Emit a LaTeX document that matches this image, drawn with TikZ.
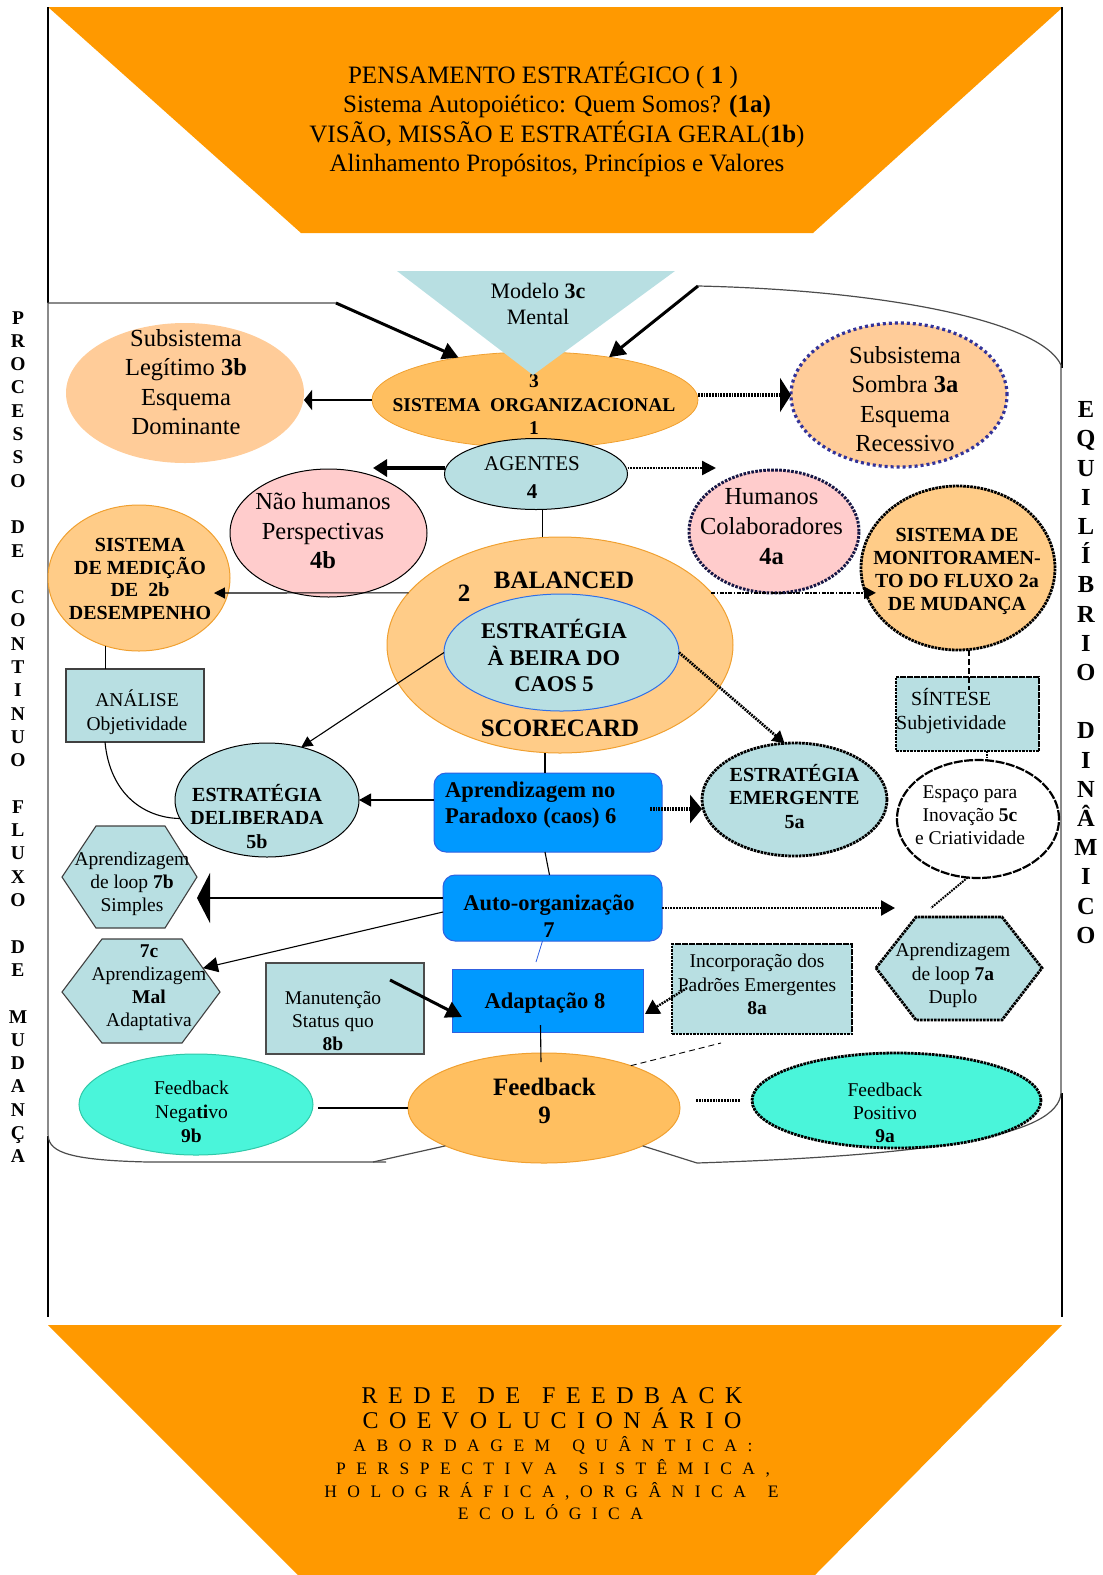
\documentclass[tikz,border=0pt]{standalone}
\usepackage{fontspec}
\setmainfont{Liberation Serif}
\usetikzlibrary{shapes.geometric,arrows.meta,calc}

\definecolor{trap}{HTML}{FF9900}
\definecolor{orgfill}{HTML}{FFBF60}
\definecolor{balfill}{HTML}{FFCC88}
\definecolor{peach}{HTML}{FFCC99}
\definecolor{ltblue}{HTML}{B8DFE2}
\definecolor{pinkfill}{HTML}{FFCCCC}
\definecolor{fbteal}{HTML}{4AF5DA}
\definecolor{tealedge}{HTML}{30C8A8}
\definecolor{boxblue}{HTML}{0099FF}
\definecolor{boxedge}{HTML}{3060E0}
\definecolor{caosedge}{HTML}{2F6FE8}
\definecolor{navydot}{HTML}{333399}
\definecolor{edgeor}{HTML}{F0A030}

\newcommand{\setfs}[2]{\fontsize{#1pt}{#2pt}\selectfont}
\newcommand{\lgap}{\hspace{10.5pt}}
\newcommand{\wgap}{\hspace{22pt}}

\tikzset{
  ellnode/.style={ellipse, inner sep=0pt, outer sep=0pt},
  boxnode/.style={rectangle, inner sep=0pt, outer sep=0pt},
  txt/.style={align=center, inner sep=0pt},
  cont/.style={line width=1.2pt, draw=black!70},
  conn/.style={line width=1.1pt},
  arr/.style={conn, -{Triangle[length=11pt,width=11pt]}},
  heavyarr/.style={line width=3pt, -{Triangle[length=16pt,width=17pt]}},
  dotln/.style={line width=2.8pt, dash pattern=on 1.8pt off 1pt},
  dotedge/.style={draw=black, line width=2.8pt, dash pattern=on 2.6pt off 0.9pt},
  navyedge/.style={draw=navydot, line width=3.2pt, dash pattern=on 3pt off 3pt},
  humedge/.style={draw=black!55!navydot, line width=3pt, dash pattern=on 2.6pt off 1.4pt},
  hexplain/.style={fill=ltblue, draw=black!75, line width=1.1pt},
}

\begin{document}
\begin{tikzpicture}[x=1pt,y=-1pt]
\useasboundingbox (0,0) rectangle (1103,1575);

% orange bands, top and bottom
\fill[trap] (48,7) -- (1063,7) -- (813,233) -- (301,233) -- cycle;
\fill[trap] (48,1325) -- (1062,1325) -- (815,1575) -- (298,1575) -- cycle;
\node[txt, font=\setfs{25}{29.3}] (topT) at (557,119.5)
  {PENSAMENTO ESTRATÉGICO ( \textbf{1} )\hspace*{28pt}\\
   Sistema Autopoiético: Quem Somos? \textbf{(1a)}\\
   VISÃO, MISSÃO E ESTRATÉGIA GERAL(\textbf{1b})\\
   Alinhamento Propósitos, Princípios e Valores};

\node[anchor=base, font=\setfs{24}{28}] (b1) at (552,1403)
  {R\lgap E\lgap D\lgap E\wgap D\lgap E\wgap F\lgap E\lgap E\lgap D\lgap B\lgap A\lgap C\lgap K};
\node[anchor=base, font=\setfs{24}{28}] (b2) at (552,1428)
  {C\lgap O\lgap E\lgap V\lgap O\lgap L\lgap U\lgap C\lgap I\lgap O\lgap N\lgap Á\lgap R\lgap I\lgap O};
\node[anchor=base, font=\setfs{17.5}{21}] (b3) at (553,1451)
  {A\lgap B\lgap O\lgap R\lgap D\lgap A\lgap G\lgap E\lgap M\wgap Q\lgap U\lgap Â\lgap N\lgap T\lgap I\lgap C\lgap A\lgap :};
\node[anchor=base, font=\setfs{17.5}{21}] (b4) at (553,1474)
  {P\lgap E\lgap R\lgap S\lgap P\lgap E\lgap C\lgap T\lgap I\lgap V\lgap A\wgap S\lgap I\lgap S\lgap T\lgap Ê\lgap M\lgap I\lgap C\lgap A\lgap ,};
\node[anchor=base, font=\setfs{17.5}{21}] (b5) at (551.5,1497)
  {H\lgap O\lgap L\lgap O\lgap G\lgap R\lgap Á\lgap F\lgap I\lgap C\lgap A\lgap ,\lgap O\lgap R\lgap G\lgap Â\lgap N\lgap I\lgap C\lgap A\wgap E};
\node[anchor=base, font=\setfs{17.5}{21}] (b6) at (550.5,1519)
  {E\lgap C\lgap O\lgap L\lgap Ó\lgap G\lgap I\lgap C\lgap A};

% outer frame
\draw[line width=2pt] (48,7) -- (48,303);
\draw[line width=2pt] (48,1136) -- (48,1317);
\draw[line width=2pt] (1062,7) -- (1062,368);
\draw[line width=2pt] (1062,1093) -- (1062,1317);

% side captions
\node[txt, font=\bfseries\setfs{19.5}{23.3}] (leftT) at (18,737)
  {P\\R\\O\\C\\E\\S\\S\\O\\\mbox{}\\D\\E\\\mbox{}\\C\\O\\N\\T\\I\\N\\U\\O\\\mbox{}\\F\\L\\U\\X\\O\\\mbox{}\\D\\E\\\mbox{}\\M\\U\\D\\A\\N\\Ç\\A};
\node[txt, font=\bfseries\setfs{24.5}{29.2}] (rightT) at (1086,672.5)
  {E\\Q\\U\\I\\L\\Í\\B\\R\\I\\O\\\mbox{}\\D\\I\\N\\Â\\M\\I\\C\\O};

% inner container outline
\coordinate (ctl) at (336,303);
\coordinate (ctr) at (698,286);
\coordinate (cbl) at (373,1162);
\coordinate (cbr) at (697,1163);
\draw[cont] (ctl) -- (48,303) -- (48,1133) .. controls (48,1150) and (60,1160) .. (148,1162) -- (386,1162);
\draw[cont] (ctr) .. controls (880,290) and (1040,320) .. (1061,365) -- (1061,1093)
  .. controls (1058,1135) and (940,1155) .. (cbr);

% ---- nodes ----
\node[ellnode, minimum width=326pt, minimum height=96pt, fill=orgfill, draw=edgeor, line width=0.8pt] (org) at (535,400) {};
\node[txt, font=\bfseries\setfs{19.5}{23.5}] (orgT) at (534,405) {3\\SISTEMA\ \ ORGANIZACIONAL\\1};
\fill[ltblue] (397,271) -- (675,271) -- (533,375) -- cycle;
\node[txt, font=\setfs{22}{26}] (modeloT) at (538,304) {Modelo \textbf{3c}\\Mental};

\node[ellnode, minimum width=238pt, minimum height=140pt, fill=peach] (legit) at (185,393) {};
\node[txt, font=\setfs{24.5}{29.3}] (legitT) at (186,382) {Subsistema\\Legítimo \textbf{3b}\\Esquema\\Dominante};

\node[ellnode, minimum width=216pt, minimum height=144pt, fill=peach, navyedge] (sombra) at (899,395) {};
\node[txt, font=\setfs{24.5}{29.3}] (sombraT) at (905,399) {Subsistema\\Sombra \textbf{3a}\\Esquema\\Recessivo};

\node[ellnode, minimum width=183pt, minimum height=71pt, fill=ltblue, draw=black, line width=1pt] (agentes) at (536,474) {};
\node[txt, font=\setfs{21}{28}] (agentesT) at (532,478) {AGENTES\\\textbf{4}};

\node[ellnode, minimum width=197pt, minimum height=128pt, fill=pinkfill, draw=black, line width=1pt] (naohum) at (328.5,533) {};
\node[txt, font=\setfs{24.5}{29.5}] (naohumT) at (323,531) {Não humanos\\Perspectivas\\\textbf{4b}};

\node[ellnode, minimum width=170pt, minimum height=123pt, fill=pinkfill, humedge] (humanos) at (774,531.5) {};
\node[txt, font=\setfs{24.5}{30}] (humanosT) at (771.5,527) {Humanos\\Colaboradores\\\textbf{4a}};

\node[ellnode, minimum width=346pt, minimum height=216pt, fill=balfill, draw=edgeor, line width=1pt] (bal) at (560,645) {};
\node[font=\bfseries\setfs{25}{28}] (balT) at (564,580) {BALANCED};
\node[font=\bfseries\setfs{25}{28}] (balN) at (464,593) {2};
\node[font=\bfseries\setfs{25}{28}] (scoreT) at (560,728) {SCORECARD};
\node[ellnode, minimum width=235pt, minimum height=117pt, fill=ltblue, draw=caosedge, line width=1pt] (caos) at (561.5,652.5) {};
\node[txt, font=\bfseries\setfs{22.5}{26.5}] (caosT) at (554,655.5) {ESTRATÉGIA\\À BEIRA DO\\CAOS 5};

\node[ellnode, minimum width=182pt, minimum height=146pt, fill=balfill, draw=edgeor, line width=1pt] (med) at (139,578) {};
\node[txt, font=\bfseries\setfs{20}{22.7}] (medT) at (140,579) {SISTEMA\\DE MEDIÇÃO\\DE\ \ 2b\\DESEMPENHO};

\node[ellnode, minimum width=194pt, minimum height=164pt, fill=balfill, dotedge] (mon) at (958,568) {};
\node[txt, font=\bfseries\setfs{20}{23}] (monT) at (957,571.5) {SISTEMA DE\\MONITORAMEN-\\TO DO FLUXO 2a\\DE MUDANÇA};

\node[boxnode, minimum width=138pt, minimum height=73pt, fill=ltblue, draw=black!75, line width=1.2pt] (ana) at (135,705.5) {};
\node[txt, font=\setfs{19.5}{24}] (anaT) at (137,712) {ANÁLISE\\Objetividade};

\node[ellnode, minimum width=184pt, minimum height=114pt, fill=ltblue, draw=black, line width=1pt] (delib) at (267,800) {};
\node[txt, font=\bfseries\setfs{20}{23.5}] (delibT) at (257,816.5) {ESTRATÉGIA\\DELIBERADA\\5b};

\node[boxnode, rounded corners=12pt, minimum width=228pt, minimum height=79pt, fill=boxblue, draw=boxedge, line width=1pt] (ap6) at (548,812.5) {};
\node[align=left, anchor=west, inner sep=0pt, font=\bfseries\setfs{22.5}{26}] (ap6T) at (445,805) {Aprendizagem no\\Paradoxo (caos) 6};

\node[ellnode, minimum width=185pt, minimum height=113pt, fill=ltblue, dotedge] (emerg) at (794.5,799.5) {};
\node[txt, font=\bfseries\setfs{20}{23.5}] (emergT) at (794.5,796.5) {ESTRATÉGIA\\EMERGENTE\\5a};

\node[boxnode, minimum width=143pt, minimum height=74pt, fill=ltblue, dotedge] (sint) at (967.5,714) {};
\node[align=left, anchor=west, inner sep=0pt, font=\setfs{20}{24}] (sintT) at (896,711) {\hspace*{15pt}SÍNTESE\\Subjetividade};

\node[ellnode, minimum width=162pt, minimum height=118pt, fill=white, draw=black, line width=2.2pt, dash pattern=on 9pt off 1.5pt] (esp) at (978,819) {};
\node[txt, font=\setfs{19.5}{23}] (espT) at (970,815) {Espaço para\\Inovação \textbf{5c}\\e Criatividade};

\node[boxnode, rounded corners=12pt, minimum width=219pt, minimum height=66pt, fill=boxblue, draw=boxedge, line width=1pt] (auto) at (552.5,908) {};
\node[txt, font=\bfseries\setfs{22.5}{27}] (autoT) at (549,916.5) {Auto-organização\\7};

% hexagons
\coordinate (h7bR) at (197,877);
\draw[hexplain] (62,877) -- (96,826) -- (165,826) -- (h7bR) -- (165,928) -- (96,928) -- cycle;
\node[txt, font=\setfs{19.5}{23}] (h7bT) at (132,884) {Aprendizagem\\de loop \textbf{7b}\\Simples};

\coordinate (h7cTR) at (182,939);
\coordinate (h7cR) at (220,992);
\draw[hexplain] (62,992) -- (102,939) -- (h7cTR) -- (h7cR) -- (182,1043) -- (102,1043) -- cycle;
\node[txt, font=\setfs{19.5}{23}] (h7cT) at (149,987.5) {\textbf{7c}\\Aprendizagem\\\textbf{Mal}\\Adaptativa};

\draw[fill=ltblue, dotedge] (876,968) -- (916,917) -- (1002,917) -- (1042,968) -- (1002,1020) -- (916,1020) -- cycle;
\node[txt, font=\setfs{19.5}{23.5}] (h7aT) at (953,975.5) {Aprendizagem\\de loop \textbf{7a}\\Duplo};

\node[boxnode, minimum width=158pt, minimum height=91pt, fill=ltblue, draw=black!70, line width=1.2pt] (manut) at (345,1008.5) {};
\node[txt, font=\setfs{19.5}{23}] (manutT) at (333,1021) {Manutenção\\Status quo\\\textbf{8b}};

\node[boxnode, minimum width=191pt, minimum height=63pt, fill=boxblue, draw=boxedge, line width=1pt] (adapt) at (547.5,1000.5) {};
\node[font=\bfseries\setfs{22.5}{27}] (adaptT) at (545,1003) {Adaptação 8};

\node[boxnode, minimum width=180pt, minimum height=90pt, fill=ltblue, dotedge] (incorp) at (762,989) {};
\node[txt, font=\setfs{19.5}{23.5}] (incorpT) at (757,984.5) {Incorporação dos\\Padrões Emergentes\\\textbf{8a}};

\node[ellnode, minimum width=272pt, minimum height=110pt, fill=orgfill, draw=edgeor, line width=1pt] (fb9) at (544,1108) {};
\node[txt, font=\bfseries\setfs{25}{28}] (fb9T) at (544.5,1101) {Feedback\\9};

\node[ellnode, minimum width=234pt, minimum height=101pt, fill=fbteal, draw=tealedge, line width=1pt] (neg) at (196,1104.5) {};
\node[txt, font=\setfs{19.5}{24}] (negT) at (191.5,1112) {Feedback\\Nega\textbf{ti}vo\\\textbf{9b}};

\node[ellnode, minimum width=289pt, minimum height=95pt, fill=fbteal, dotedge] (pos) at (896.5,1100.5) {};
\node[txt, font=\setfs{19.5}{23}] (posT) at (885,1113) {Feedback\\Positivo\\\textbf{9a}};

% container joins at the feedback ellipse
\draw[cont] (cbl) -- (fb9.201);
\draw[cont] (fb9.-21) -- (cbr);

% ---- connectors ----
\draw[heavyarr] (ctl) -- (org.151);
\draw[heavyarr] (ctr) -- (org.30);
\draw[conn, -{Triangle[length=8pt,width=20pt]}] (org.west) -- (org.west -| legit.east);
\draw[dotln, line width=3.5pt, -{Triangle[length=11pt,width=34pt]}] ([yshift=5pt]org.east) -- ([yshift=5pt]org.east -| sombra.west);

\coordinate (agL) at (373,468);
\coordinate (agR) at (716,468);
\draw[line width=3.3pt, -{Triangle[length=14pt,width=17pt]}] ([yshift=6pt]agentes.west) -- (agL);
\draw[dotln, line width=2.4pt, -{Triangle[length=14pt,width=14pt]}] ([yshift=6pt]agentes.east) -- (agR);
\draw[conn] (agentes.-80) -- (agentes.-80 |- bal.north);

\coordinate (medtip) at (214,593);
\draw[arr] (bal.161) -- (medtip);
\draw[line width=2.5pt, dash pattern=on 4pt off 1.5pt on 1.5pt off 1.5pt, -{Triangle[length=12pt,width=12pt]}]
  (bal.19) -- ([xshift=15pt]bal.19 -| mon.west);

\draw[conn] (med.-116) -- (med.-116 |- ana.north);
\draw[conn] ([xshift=39pt]ana.south west) .. controls (110,795) and (145,818) .. (delib.-168);
\draw[arr] (caos.west) -- (delib.57);
\draw[dotln, -{Triangle[length=12pt,width=13pt]}] (caos.east) -- (emerg.100);

\draw[conn] ([xshift=-3pt]ap6.north |- bal.south) -- ([xshift=-3pt]ap6.north);
\draw[conn, -{Triangle[length=12pt,width=13pt]}] (delib.east -| ap6.west) -- (delib.east);
\coordinate (apE) at (650,809);
\draw[dotln, line width=3.2pt, -{Triangle[length=12pt,width=28pt]}] (apE) -- ([yshift=-9.5pt]emerg.west);
\draw[conn] ([xshift=-3pt]ap6.south) -- ([xshift=-3pt]auto.north);

\draw[conn, -{Triangle[length=13pt,width=50pt]}] ([yshift=10pt]auto.west) -- ([yshift=10pt]auto.west -| h7bR);
\draw[conn, -{Triangle[length=15pt,width=15pt]}] ([yshift=-4pt]auto.west) -- ($(h7cTR)!0.55!(h7cR)$);
\coordinate (autoR) at (895,908);
\draw[dotln, line width=2.4pt, -{Triangle[length=14pt,width=15pt]}] (auto.east) -- (autoR);
\draw[draw=boxedge, line width=0.8pt] ([xshift=-10pt]auto.south) -- ([xshift=-11.5pt,yshift=7pt]adapt.north);

\coordinate (manS) at (390,980);
\coordinate (manE) at (462,1017);
\draw[heavyarr] (manS) -- (manE);
\coordinate (incS) at (687,988);
\coordinate (incE) at (645,1014);
\draw[dotln, line width=2.4pt, -{Triangle[length=14pt,width=16pt]}] (incS) -- (incE);

\draw[conn] ([xshift=-7pt,yshift=7pt]adapt.south) -- ([xshift=-3pt,yshift=-9pt]fb9.north);
\draw[conn] (fb9.west) -- ([xshift=5pt]fb9.west -| neg.east);
\draw[dotln, line width=2.2pt] ([xshift=16pt]fb9.east |- pos.west) -- ([xshift=-12pt]pos.west);
\coordinate (dashE) at (721,1043);
\draw[line width=0.9pt, dash pattern=on 6pt off 4pt] (fb9.26) -- (dashE);

\draw[line width=2pt, dash pattern=on 6pt off 3pt] ([xshift=11pt]mon.south) -- ([xshift=1.5pt,yshift=-13pt]sint.north);
\draw[dotln, line width=2pt] ([xshift=19.5pt]sint.south) -- ([xshift=9pt]esp.north);
\coordinate (h7aTop) at (931,908);
\draw[dotln, line width=2pt] (esp.-100) -- (h7aTop);

\end{tikzpicture}
\end{document}
